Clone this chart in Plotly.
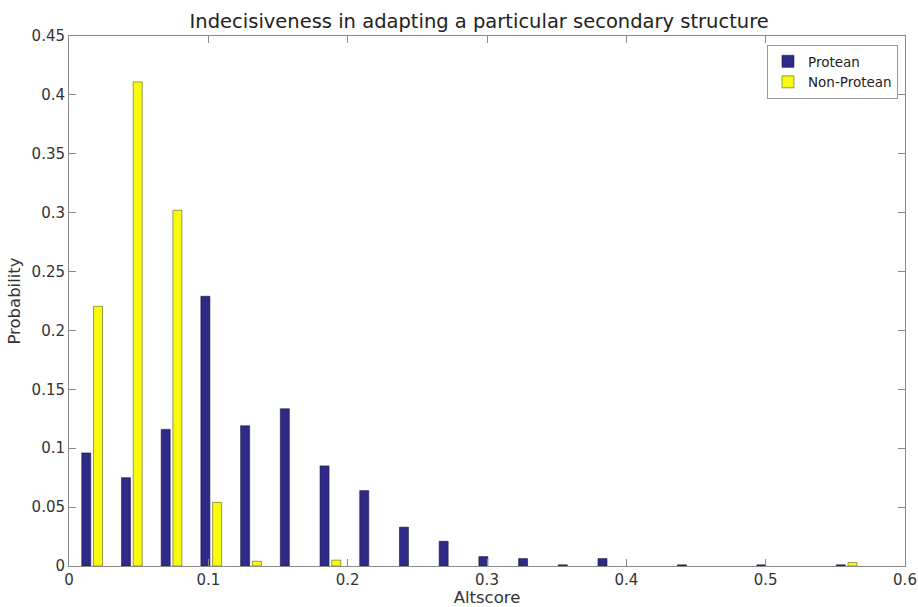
import plotly.graph_objects as go

# Bin centres of the Altscore histogram
bin_centers = [0.0166, 0.0451, 0.0736, 0.1021, 0.1306, 0.1591, 0.1876, 0.2161,
               0.2446, 0.2731, 0.3016, 0.3301, 0.3586, 0.3871, 0.4156, 0.4441,
               0.4726, 0.5011, 0.5296, 0.5581]

# Empty bins are left as None so no outline is drawn for them
protean = [0.096, 0.075, 0.116, 0.229, 0.119, 0.1335, 0.085, 0.064,
           0.033, 0.021, 0.008, 0.0063, 0.001, 0.0063, None, 0.001,
           None, 0.001, None, 0.001]

non_protean = [0.2205, 0.411, 0.302, 0.054, 0.004, None, 0.005, None,
               None, None, None, None, None, None, None, None,
               None, None, None, 0.003]

x_ticks = [0, 0.1, 0.2, 0.3, 0.4, 0.5, 0.6]
x_tick_text = ["0", "0.1", "0.2", "0.3", "0.4", "0.5", "0.6"]
y_ticks = [0, 0.05, 0.1, 0.15, 0.2, 0.25, 0.3, 0.35, 0.4, 0.45]
y_tick_text = ["0", "0.05", "0.1", "0.15", "0.2", "0.25", "0.3", "0.35", "0.4", "0.45"]

FONT = "DejaVu Sans"
AXIS_COLOR = "#8a8a8a"
TEXT_COLOR = "#333333"

fig = go.Figure()
fig.add_trace(go.Bar(
    x=bin_centers, y=protean, name="Protean",
    marker=dict(color="#2f2a87", line=dict(color="#1a1a40", width=0.6)),
))
fig.add_trace(go.Bar(
    x=bin_centers, y=non_protean, name="Non-Protean",
    marker=dict(color="#f9fb0e", line=dict(color="#5a5a20", width=0.6)),
))

axis_common = dict(
    showline=True, linecolor=AXIS_COLOR, linewidth=1, mirror="ticks",
    ticks="inside", ticklen=7, tickcolor=AXIS_COLOR, tickwidth=1,
    showgrid=False, zeroline=False, automargin=False,
    tickfont=dict(family=FONT, size=15, color=TEXT_COLOR),
)

fig.update_layout(
    width=918, height=607,
    margin=dict(l=69, r=13, t=36, b=41),
    paper_bgcolor="white", plot_bgcolor="white",
    barmode="group", bargap=0.41, bargroupgap=0.23,
    title=dict(
        text="Indecisiveness in adapting a particular secondary structure",
        x=0.522, xanchor="center", y=0.965, yanchor="middle",
        font=dict(family=FONT, size=19.5, color="#222222"),
    ),
    xaxis=dict(
        range=[0, 0.6], tickvals=x_ticks, ticktext=x_tick_text,
        title=dict(text="Altscore", standoff=6,
                   font=dict(family=FONT, size=16.5, color=TEXT_COLOR)),
        **axis_common,
    ),
    yaxis=dict(
        range=[0, 0.45], tickvals=y_ticks, ticktext=y_tick_text,
        title=dict(text="Probability", standoff=6,
                   font=dict(family=FONT, size=16.5, color=TEXT_COLOR)),
        **axis_common,
    ),
    legend=dict(
        x=0.9916, y=0.983, xanchor="right", yanchor="top",
        bgcolor="white", bordercolor="#9a9a9a", borderwidth=1,
        font=dict(family=FONT, size=13.5, color="#222222"),
        tracegroupgap=0, itemwidth=30,
    ),
    showlegend=True,
)

fig.write_html("out.html")
